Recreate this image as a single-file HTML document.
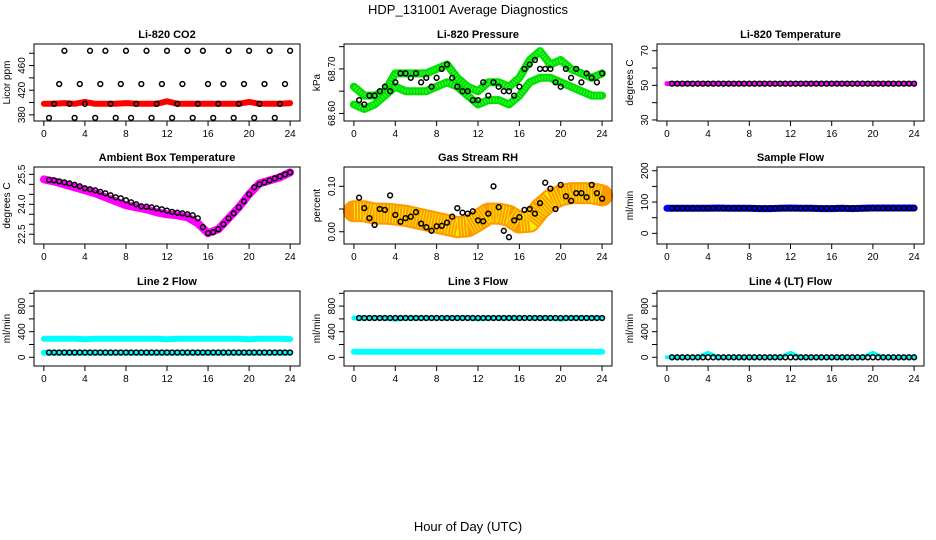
<!DOCTYPE html>
<html><head><meta charset="utf-8">
<style>
body{margin:0;background:#fff;}
svg{display:block;font-family:"Liberation Sans",sans-serif;}
</style></head>
<body>
<svg id="c" width="936" height="540" viewBox="0 0 936 540">
<rect width="936" height="540" fill="#fff"/>
<text x="468" y="14" text-anchor="middle" font-size="13">HDP_131001  Average Diagnostics</text>
<text x="468" y="531" text-anchor="middle" font-size="13">Hour of Day (UTC)</text>
</svg>
<script>
const hours48=[0.5,1,1.5,2,2.5,3,3.5,4,4.5,5,5.5,6,6.5,7,7.5,8,8.5,9,9.5,10,10.5,11,11.5,12,12.5,13,13.5,14,14.5,15,15.5,16,16.5,17,17.5,18,18.5,19,19.5,20,20.5,21,21.5,22,22.5,23,23.5,24];
const hours25=[0,1,2,3,4,5,6,7,8,9,10,11,12,13,14,15,16,17,18,19,20,21,22,23,24];
const xTicks=[0,4,8,12,16,20,24];

const co2Black=[375,398,430,484,398,375,430,398,484,375,430,484,398,375,430,484,375,398,430,484,375,398,430,484,375,398,430,484,375,398,484,430,375,398,430,484,375,398,430,484,375,398,430,484,375,398,430,484];
const co2Red=[398,398,399,398,401,398,398,398,399,398,398,398,402,398,398,398,398,398,398,398,401,398,398,398,399];
const presUpper=[68.66,68.64,68.64,68.65,68.69,68.69,68.69,68.69,68.70,68.71,68.68,68.66,68.65,68.67,68.67,68.66,68.68,68.72,68.74,68.71,68.72,68.70,68.69,68.68,68.69];
const presLower=[68.62,68.61,68.62,68.64,68.66,68.65,68.65,68.65,68.66,68.67,68.66,68.64,68.62,68.63,68.63,68.62,68.64,68.67,68.68,68.68,68.67,68.66,68.65,68.64,68.64];
const presBlack=[68.63,68.62,68.64,68.64,68.65,68.66,68.65,68.67,68.69,68.69,68.68,68.69,68.67,68.68,68.66,68.68,68.70,68.71,68.68,68.66,68.65,68.65,68.63,68.63,68.67,68.64,68.67,68.66,68.65,68.65,68.64,68.66,68.70,68.71,68.72,68.70,68.70,68.70,68.67,68.66,68.70,68.68,68.70,68.67,68.69,68.68,68.67,68.69];
const liTempMag=[51,51,51,51,51,51,51,51,51,51,51,51,51,51,51,51,51,51,51,51,51,51,51,51,51];
const liTempBlack=[51,51,51,51,51,51,51,51,51,51,51,51,51,51,51,51,51,51,51,51,51,51,51,51,51,51,51,51,51,51,51,51,51,51,51,51,51,51,51,51,51,51,51,51,51,51,51,51];
const ambMag=[25.25,25.15,25.0,24.85,24.7,24.55,24.35,24.15,23.95,23.85,23.75,23.6,23.5,23.45,23.35,23.05,22.55,22.75,23.3,23.85,24.5,25.05,25.2,25.35,25.6];
const ambBlack=[25.22,25.2,25.15,25.1,25.05,24.98,24.9,24.8,24.75,24.7,24.62,24.55,24.45,24.35,24.3,24.2,24.1,24.0,23.9,23.88,23.85,23.8,23.75,23.68,23.62,23.58,23.55,23.5,23.45,23.3,22.85,22.55,22.6,22.75,23.0,23.3,23.55,23.85,24.15,24.5,24.85,25.0,25.1,25.2,25.3,25.4,25.5,25.6];
const rhBand=[0.045,0.045,0.04,0.04,0.038,0.035,0.03,0.025,0.02,0.015,0.01,0.012,0.025,0.04,0.04,0.035,0.02,0.022,0.05,0.07,0.08,0.085,0.085,0.085,0.08];
const rhBlack=[0.075,0.052,0.030,0.015,0.050,0.048,0.080,0.037,0.022,0.030,0.033,0.043,0.018,0.010,0.002,0.012,0.013,0.020,0.033,0.052,0.042,0.040,0.045,0.025,0.023,0.040,0.100,0.054,0.002,-0.012,0.025,0.032,0.048,0.050,0.040,0.063,0.108,0.095,0.050,0.103,0.078,0.068,0.085,0.085,0.076,0.103,0.085,0.073];
const sampleBlue=[80,80,80,80,80,81,80,80,80,79,79,80,81,80,80,79,79,80,79,80,81,81,81,81,81];
const sampleBlack=[80,80,80,80,80,80,80,80,80,80,80,80,80,80,80,80,80,80,80,80,80,80,80,80,80,80,80,80,80,80,80,80,80,80,80,80,80,80,80,80,80,80,80,80,80,80,80,80];
const l2CyanHigh=[290,290,290,290,282,290,290,290,290,290,290,290,282,290,290,290,290,290,290,290,282,290,290,290,285];
const l2CyanLow=[72,72,72,72,72,72,72,72,72,72,72,72,72,72,72,72,72,72,72,72,72,72,72,72,72];
const l2Black=[75,75,75,75,75,75,75,75,75,75,75,75,75,75,75,75,75,75,75,75,75,75,75,75,75,75,75,75,75,75,75,75,75,75,75,75,75,75,75,75,75,75,75,75,75,75,75,75];
const l3CyanHigh=[614,614,614,614,595,614,614,614,614,614,614,620,600,614,614,614,614,614,614,614,595,614,614,614,614];
const l3CyanLow=[88,88,88,88,88,88,88,88,88,88,88,88,88,88,88,88,88,88,88,88,88,88,88,88,88];
const l3Black=[614,614,614,614,614,614,614,614,614,614,614,614,614,614,614,614,614,614,614,614,614,614,614,614,614,614,614,614,614,614,614,614,614,614,614,614,614,614,614,614,614,614,614,614,614,614,614,614];
const l4Cyan=[0,0,0,0,70,0,0,0,0,0,0,0,70,0,0,0,0,0,0,0,70,0,0,0,0];
const l4Black=[0,0,0,0,0,0,0,0,0,0,0,0,0,0,0,0,0,0,0,0,0,0,0,0,0,0,0,0,0,0,0,0,0,0,0,0,0,0,0,0,0,0,0,0,0,0,0,0];

const NS="http://www.w3.org/2000/svg";
const svg=document.getElementById('c');
function mk(tag,attrs,parent){const e=document.createElementNS(NS,tag);for(const k in attrs)e.setAttribute(k,attrs[k]);(parent||svg).appendChild(e);return e;}

function panel(cfg){
  const g=mk('g',{});
  
  
  const X=h=>cfg.x+(h+0.96)/25.92*cfg.w;
  const Y=v=>cfg.y+cfg.h-(v-cfg.ymin)/(cfg.ymax-cfg.ymin)*cfg.h;
  const t=mk('text',{x:cfg.x+cfg.w/2,y:cfg.y-6,'text-anchor':'middle','font-size':11,'font-weight':'bold'},g);
  t.textContent=cfg.title;
  
  
  cfg.bands.forEach(b=>{
    const pts=b.data.map((v,i)=>X(hours25[i]).toFixed(1)+','+Y(v).toFixed(1)).join(' ');
    const pl=mk('polyline',{points:pts,fill:'none',stroke:b.color,'stroke-width':b.w,'stroke-linejoin':'round','stroke-linecap':'round'},g);
    
    
    if(b.dot){const p2=mk('polyline',{points:pts,fill:'none',stroke:b.dot,'stroke-width':b.w-4,'stroke-dasharray':'1 2','stroke-linejoin':'round'},g);
      
      }
  });
  cfg.black.forEach((v,i)=>{
    const c=mk('circle',{cx:X(hours48[i]).toFixed(1),cy:Y(v).toFixed(1),r:2.4,fill:'none',stroke:'#000','stroke-width':1.5},g);
    
    
  });
  const r=mk('rect',{x:cfg.x,y:cfg.y,width:cfg.w,height:cfg.h,fill:'none',stroke:'#000','stroke-width':1},g);
  
  
  xTicks.forEach(h=>{
    const l=mk('line',{x1:X(h),x2:X(h),y1:cfg.y+cfg.h,y2:cfg.y+cfg.h+5,stroke:'#000'},g);
    
    
    const tx=mk('text',{x:X(h),y:cfg.y+cfg.h+16,'text-anchor':'middle','font-size':10},g);
    tx.textContent=h;
    
    
  });
  cfg.yticks.forEach(v=>{
    const l=mk('line',{x1:cfg.x-5,x2:cfg.x,y1:Y(v),y2:Y(v),stroke:'#000'},g);
    
    
  });
  cfg.ylabels.forEach((s,i)=>{
    const v=cfg.ylabelVals[i];
    const tx=mk('text',{x:0,y:0,'text-anchor':'middle','font-size':10,transform:`translate(${cfg.x-9},${Y(v)}) rotate(-90)`},g);
    tx.textContent=s;
    
    
  });
  const yl=mk('text',{x:0,y:0,'text-anchor':'middle','font-size':10,transform:`translate(${cfg.x-24},${cfg.y+cfg.h/2}) rotate(-90)`},g);
  yl.textContent=cfg.ylab;
  
  
}

const flowTicks=[0,200,400,600,800,1000];
panel({name:'co2',title:'Li-820 CO2',ylab:'Licor ppm',x:34,y:44,w:266,h:77,ymin:370,ymax:495,yticks:[380,400,420,440,460,480],ylabels:['380','420','460'],ylabelVals:[380,420,460],bands:[{data:co2Red,color:'#ff0000',w:6}],black:co2Black});
panel({name:'pressure',title:'Li-820 Pressure',ylab:'kPa',x:344,y:44,w:268,h:77,ymin:68.583,ymax:68.756,yticks:[68.60,68.65,68.70,68.75],ylabels:['68.60','68.70'],ylabelVals:[68.60,68.70],bands:[{data:presUpper,color:'#00e000',w:8,dot:'#40ff40'},{data:presLower,color:'#00e000',w:8,dot:'#40ff40'}],black:presBlack});
panel({name:'li-temp',title:'Li-820 Temperature',ylab:'degrees C',x:657,y:44,w:267,h:77,ymin:29.4,ymax:73.9,yticks:[30,40,50,60,70],ylabels:['30','50','70'],ylabelVals:[30,50,70],bands:[{data:liTempMag,color:'#ff00ff',w:5}],black:liTempBlack});
panel({name:'ambient-temp',title:'Ambient Box Temperature',ylab:'degrees C',x:34,y:167,w:266,h:77,ymin:22.01,ymax:25.87,yticks:[22.5,23,23.5,24,24.5,25,25.5],ylabels:['22.5','24.0','25.5'],ylabelVals:[22.5,24,25.5],bands:[{data:ambMag,color:'#ff00ff',w:8}],black:ambBlack});
panel({name:'rh',title:'Gas Stream RH',ylab:'percent',x:344,y:167,w:268,h:77,ymin:-0.027,ymax:0.1425,yticks:[0,0.05,0.1],ylabels:['0.00','0.10'],ylabelVals:[0,0.1],bands:[{data:rhBand,color:'#ff9900',w:22,dot:'#ffee00'}],black:rhBlack});
panel({name:'sample-flow',title:'Sample Flow',ylab:'ml/min',x:657,y:167,w:267,h:77,ymin:-34,ymax:212,yticks:[0,50,100,150,200],ylabels:['0','100','200'],ylabelVals:[0,100,200],bands:[{data:sampleBlue,color:'#0000ff',w:7}],black:sampleBlack});
panel({name:'line2-flow',title:'Line 2 Flow',ylab:'ml/min',x:34,y:291,w:266,h:75,ymin:-136,ymax:1036,yticks:flowTicks,ylabels:['0','400','800'],ylabelVals:[0,400,800],bands:[{data:l2CyanHigh,color:'#00ffff',w:6},{data:l2CyanLow,color:'#00ffff',w:6}],black:l2Black});
panel({name:'line3-flow',title:'Line 3 Flow',ylab:'ml/min',x:344,y:291,w:268,h:75,ymin:-136,ymax:1036,yticks:flowTicks,ylabels:['0','400','800'],ylabelVals:[0,400,800],bands:[{data:l3CyanHigh,color:'#00ffff',w:5},{data:l3CyanLow,color:'#00ffff',w:6}],black:l3Black});
panel({name:'line4-flow',title:'Line 4 (LT) Flow',ylab:'ml/min',x:657,y:291,w:267,h:75,ymin:-136,ymax:1036,yticks:flowTicks,ylabels:['0','400','800'],ylabelVals:[0,400,800],bands:[{data:l4Cyan,color:'#00ffff',w:4}],black:l4Black});
</script>
</body></html>
